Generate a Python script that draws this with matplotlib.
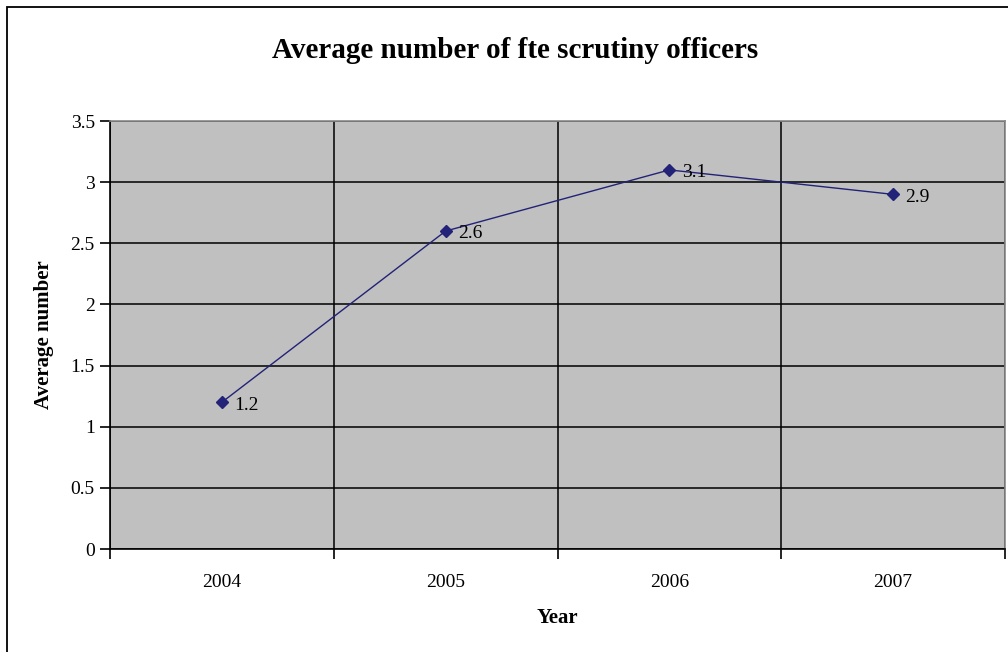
import numpy as np
import matplotlib.pyplot as plt
from matplotlib.patches import Rectangle

# -----------------------------
# Data
# -----------------------------

years = ["2004", "2005", "2006", "2007"]
officers = [1.2, 2.6, 3.1, 2.9]
labels = ["1.2", "2.6", "3.1", "2.9"]

plt.rcParams["font.family"] = ["Liberation Serif", "DejaVu Serif"]

fig = plt.figure(figsize=(10.08, 6.52), dpi=100)

ax = fig.add_axes([110 / 1008, 103 / 652, 895 / 1008, 428 / 652])
ax.set_facecolor("#c0c0c0")

x = np.arange(len(years))

ax.plot(
    x,
    officers,
    color="#222278",
    linewidth=1.0,
    marker="D",
    markersize=6,
    zorder=5
)

for xi, yi, lab in zip(x, officers, labels):
    ax.annotate(
        lab,
        (xi, yi),
        xytext=(9, -2),
        textcoords="offset points",
        ha="left",
        va="center",
        fontsize=14,
        zorder=6
    )

# Axes limits and ticks
ax.set_xlim(-0.5, len(years) - 0.5)
ax.set_ylim(0, 3.5)

ax.set_yticks(np.arange(0, 3.51, 0.5))
ax.set_yticklabels(["0", "0.5", "1", "1.5", "2", "2.5", "3", "3.5"])

ax.set_xticks(np.arange(-0.5, len(years), 1.0))
ax.set_xticklabels([])
ax.set_xticks(x, minor=True)
ax.set_xticklabels(years, minor=True)

ax.tick_params(axis="y", direction="out", length=7, width=1.2,
               labelsize=14, pad=4)
ax.tick_params(axis="x", which="major", direction="out", length=7, width=1.2)
ax.tick_params(axis="x", which="minor", length=0, labelsize=14, pad=18)

# Grid
ax.grid(True, which="major", axis="both", color="black", linewidth=1.1)
ax.set_axisbelow(True)

for side in ["left", "bottom"]:
    ax.spines[side].set_color("black")
    ax.spines[side].set_linewidth(1.2)
for side in ["top", "right"]:
    ax.spines[side].set_color("#888888")
    ax.spines[side].set_linewidth(1.2)

ax.set_xlabel("Year", fontsize=15, fontweight="bold", labelpad=12)
ax.set_ylabel("Average number", fontsize=15, fontweight="bold", labelpad=12)

fig.text(515 / 1008, 1 - 51 / 652, "Average number of fte scrutiny officers",
         ha="center", va="center", fontsize=21, fontweight="bold")

# Outer chart frame
fig.patches.append(
    Rectangle((7 / 1008, -0.1), 1.2, 1.1 - 7 / 652,
              transform=fig.transFigure, fill=False,
              edgecolor="black", linewidth=1.3)
)

fig.savefig("out.png", dpi=100)
